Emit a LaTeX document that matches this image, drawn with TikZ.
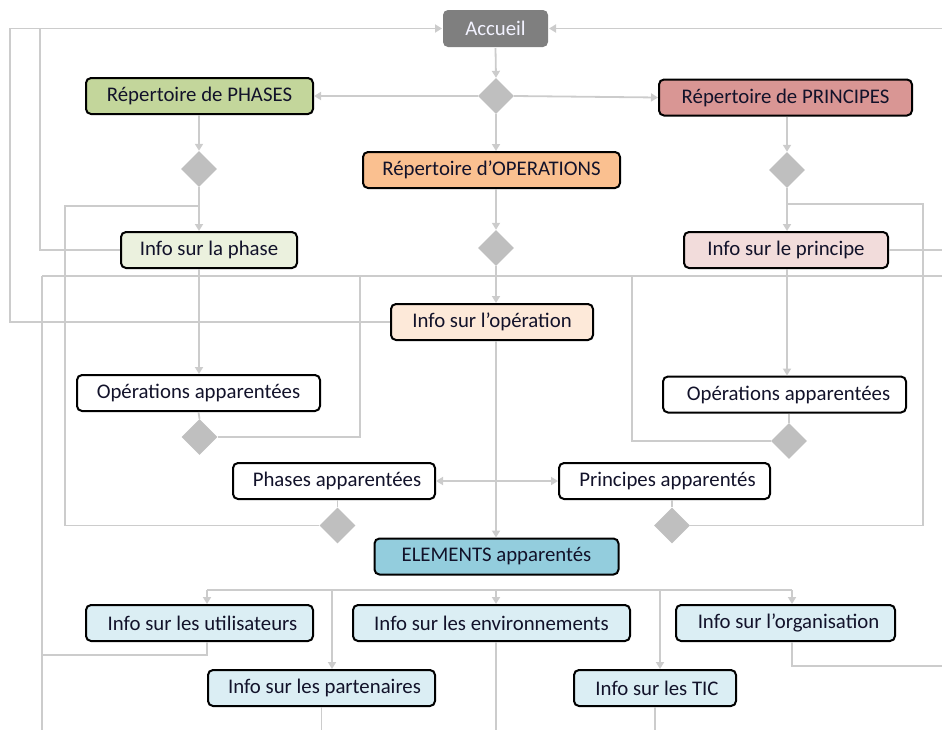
\documentclass[tikz,border=0pt]{standalone}
\usepackage{fontspec}
\setmainfont{Carlito}
\usetikzlibrary{arrows.meta,shapes.geometric}
\definecolor{linecol}{HTML}{CCCCCC}
\definecolor{dcol}{HTML}{BFBFBF}
\definecolor{txt}{HTML}{12122A}
\definecolor{cacc}{HTML}{7F7F7F}
\definecolor{cph}{HTML}{C3D69B}
\definecolor{cpr}{HTML}{D99694}
\definecolor{cop}{HTML}{FAC090}
\definecolor{ciph}{HTML}{EBF1DE}
\definecolor{cipr}{HTML}{F2DCDB}
\definecolor{ciop}{HTML}{FDE9D9}
\definecolor{cel}{HTML}{93CDDD}
\definecolor{ciel}{HTML}{DBEEF4}
\begin{document}
\begin{tikzpicture}[x=1pt,y=-1pt,
  box/.style={draw=black, line width=2pt, rounded corners=5pt, minimum height=36pt,
    inner sep=0pt, text=txt, font=\fontsize{20.8}{24}\selectfont},
  dia/.style={diamond, fill=dcol, draw=none, inner sep=0pt, minimum width=36pt, minimum height=36pt},
  conn/.style={draw=linecol, line width=1.8pt},
  arr/.style={conn, -{Triangle[length=7pt,width=8pt]}}]
\useasboundingbox (0,0) rectangle (942,729);

% nodes
\node[box, draw=none, fill=cacc, text=white!95!blue, minimum width=105pt, minimum height=37pt] (acc) at (495.5,28.5) {Accueil};
\node[dia] (d0) at (496,96) {};
\node[box, fill=cph, minimum width=227pt] (ph) at (199.5,96) {Répertoire de PHASES};
\node[box, fill=cpr, minimum width=253pt] (pr) at (785.5,97.5) {Répertoire de PRINCIPES};
\node[box, fill=cop, minimum width=257pt] (op) at (491.5,170) {Répertoire d’OPERATIONS};
\node[dia] (dph) at (199,169) {};
\node[dia] (dpr) at (787,170) {};
\node[dia] (dop) at (496,248) {};
\node[box, fill=ciph, minimum width=176pt] (iph) at (209,250) {Info sur la phase};
\node[box, fill=cipr, minimum width=204pt] (ipr) at (786,250) {Info sur le principe};
\node[box, fill=ciop, minimum width=202pt] (iop) at (492,322) {Info sur l’opération};
\node[box, fill=white, minimum width=243pt] (opL) at (198.5,393) {Opérations apparentées};
\node[box, fill=white, minimum width=243pt] (opR) at (784.5,394.5) {\hspace{8pt}Opérations apparentées};
\node[dia] (dopL) at (199.5,437) {};
\node[dia] (dopR) at (789,441) {};
\node[box, fill=white, minimum width=202pt] (phA) at (334,481) {\hspace{6pt}Phases apparentées};
\node[box, fill=white, minimum width=211pt] (prA) at (664.5,481) {\hspace{6pt}Principes apparentés};
\node[dia] (dphA) at (337.5,525.5) {};
\node[dia] (dprA) at (672,525.5) {};
\node[box, fill=cel, minimum width=244pt] (el) at (496.5,556.5) {ELEMENTS apparentés};
\node[box, fill=ciel, minimum width=227pt] (util) at (199.5,623) {\hspace{6pt}Info sur les utilisateurs};
\node[box, fill=ciel, minimum width=277pt] (env) at (491.5,623) {Info sur les environnements};
\node[box, fill=ciel, minimum width=219pt] (org) at (785.5,623) {\hspace{6pt}Info sur l’organisation};
\node[box, fill=ciel, minimum width=227pt] (part) at (321.5,688) {\hspace{6pt}Info sur les partenaires};
\node[box, fill=ciel, minimum width=162pt] (tic) at (655,688) {\hspace{4pt}Info sur les TIC};

% helper coordinates
\coordinate (busL) at (42,276);
\coordinate (busR) at (950,276);
\coordinate (bot) at (0,745);
\coordinate (farL) at (10,322);
\coordinate (midL) at (40,250);
\coordinate (jL) at (360,276);
\coordinate (jR) at (632,276);
\coordinate (cU) at (207,655);
\coordinate (cO) at (792,666);
\coordinate (lpL) at (65,206);
\coordinate (lpR) at (923,204);
\coordinate (ebL) at (207,590);
\coordinate (ebR) at (792,590);
\coordinate (ebP) at (332,590);
\coordinate (ebT) at (660,590);

% top
\draw[arr] (acc.south) -- (d0.north);
\draw[arr] (d0.west) -- (ph.east);
\draw[arr] (d0.east) -- (pr.west);
\draw[arr] (d0.south) -- (d0.south |- op.north);
\draw[arr] (dph.north |- ph.south) -- (dph.north);
\draw[arr] (dph.south) -- (dph.south |- iph.north);
\draw[arr] (dpr.north |- pr.south) -- (dpr.north);
\draw[arr] (dpr.south) -- (dpr.south |- ipr.north);
\draw[arr] (dop.north |- op.south) -- (dop.north);
\draw[arr] (dop.south) -- (dop.south |- iop.north);
% back to Accueil
\draw[arr] (iop.west) -- (farL) |- (acc.west);
\draw[conn] (iph.west) -- (midL) -- (midL |- acc.west);
\draw[arr] (acc.east -| busR) -- (acc.east);
\draw[conn] (ipr.east) -- (ipr.east -| busR);
% to related operations
\draw[arr] (dph.south |- iph.south) -- (dph.south |- opL.north);
\draw[arr] (dpr.south |- ipr.south) -- (dpr.south |- opR.north);
\draw[conn] (opL.south) -- (dopL.north);
\draw[conn] (dopR.north |- opR.south) -- (dopR.north);
% bus back to Info sur l'operation
\draw[conn] (busL) -- (busR);
\draw[conn] (dopL.east) -| (jL);
\draw[conn] (dopR.west) -| (jR);
\draw[conn] (busL) -- (busL |- bot);
% central line
\draw[arr] (dop.south |- iop.south) -- (dop.south |- el.north);
\draw[arr] (dop.south |- phA.east) -- (phA.east);
\draw[arr] (dop.south |- prA.west) -- (prA.west);
\draw[conn] (dphA.north |- phA.south) -- (dphA.north);
\draw[conn] (dprA.north |- prA.south) -- (dprA.north);
\draw[conn] (dphA.west) -| (lpL) -- (lpL -| dph.south);
\draw[conn] (dprA.east) -| (lpR) -- (lpR -| dpr.south);
% elements
\draw[conn] (ebL) -- (ebR);
\draw[arr] (ebL) -- (ebL |- util.north);
\draw[arr] (dop.south |- ebL) -- (dop.south |- env.north);
\draw[arr] (ebR) -- (ebR |- org.north);
\draw[arr] (ebP) -- (ebP |- part.north);
\draw[arr] (ebT) -- (ebT |- tic.north);
\draw[conn] (cU |- util.south) -- (cU) -| (busL);
\draw[conn] (cO |- org.south) -- (cO) -- (cO -| busR);
\draw[conn] (dop.south |- env.south) -- (dop.south |- bot);
\draw[conn] (part.south) -- (part.south |- bot);
\draw[conn] (tic.south) -- (tic.south |- bot);
\end{tikzpicture}
\end{document}
